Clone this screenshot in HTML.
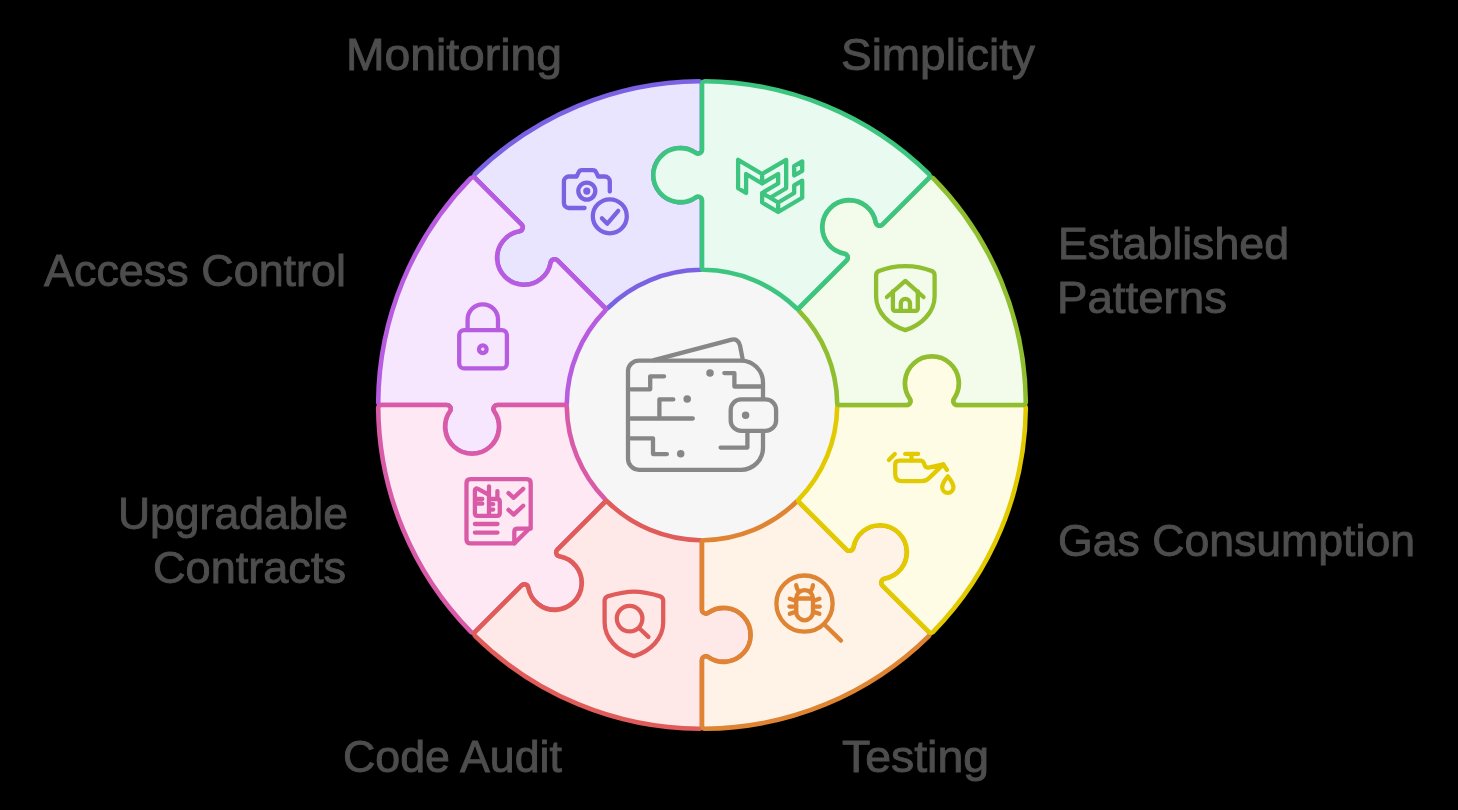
<!DOCTYPE html>
<html><head><meta charset="utf-8"><style>
html,body{margin:0;padding:0;background:#000;width:1458px;height:810px;overflow:hidden}
svg{display:block;will-change:transform}
text{font-family:"Liberation Sans",sans-serif;font-size:44.5px;fill:#4d4d4d;stroke:#4d4d4d;stroke-width:0.9px}
</style></head><body>
<svg width="1458" height="810" viewBox="0 0 1458 810">
<rect width="1458" height="810" fill="#000"/>
<circle cx="702" cy="405" r="137" fill="#f6f6f6"/>
<path d="M605.00 308.00 L557.43 260.43 A4.0 4.0 0 0 0 550.67 262.55 A27.0 27.0 0 1 1 519.32 231.21 A4.0 4.0 0 0 0 521.44 224.44 L475.17 178.17 A3.0 3.0 0 0 1 475.19 173.91 A323.8 323.8 0 0 1 698.97 81.21 A3.0 3.0 0 0 1 702.00 84.21 L702.00 149.65 A4.0 4.0 0 0 1 695.72 152.93 A27.0 27.0 0 1 0 695.72 197.27 A4.0 4.0 0 0 1 702.00 200.55 L702.00 267.81 A2.0 2.0 0 0 1 700.03 269.81 A135.2 135.2 0 0 0 607.80 308.02 A2.0 2.0 0 0 1 605.00 308.00 Z" fill="#e9e5ff" stroke="#7b62e2" stroke-width="4.6" stroke-linejoin="round"/>
<path d="M564.81 405.00 L497.55 405.00 A4.0 4.0 0 0 0 494.27 411.28 A27.0 27.0 0 1 1 449.93 411.28 A4.0 4.0 0 0 0 446.65 405.00 L381.21 405.00 A3.0 3.0 0 0 1 378.21 401.97 A323.8 323.8 0 0 1 470.91 178.19 A3.0 3.0 0 0 1 475.17 178.17 L521.44 224.44 A4.0 4.0 0 0 1 519.32 231.21 A27.0 27.0 0 1 0 550.67 262.55 A4.0 4.0 0 0 1 557.43 260.43 L605.00 308.00 A2.0 2.0 0 0 1 605.02 310.80 A135.2 135.2 0 0 0 566.81 403.03 A2.0 2.0 0 0 1 564.81 405.00 Z" fill="#f6e7fe" stroke="#b75ce0" stroke-width="4.6" stroke-linejoin="round"/>
<path d="M605.00 502.00 L557.43 549.57 A4.0 4.0 0 0 0 559.55 556.33 A27.0 27.0 0 1 1 528.21 587.68 A4.0 4.0 0 0 0 521.44 585.56 L475.17 631.83 A3.0 3.0 0 0 1 470.91 631.81 A323.8 323.8 0 0 1 378.21 408.03 A3.0 3.0 0 0 1 381.21 405.00 L446.65 405.00 A4.0 4.0 0 0 1 449.93 411.28 A27.0 27.0 0 1 0 494.27 411.28 A4.0 4.0 0 0 1 497.55 405.00 L564.81 405.00 A2.0 2.0 0 0 1 566.81 406.97 A135.2 135.2 0 0 0 605.02 499.20 A2.0 2.0 0 0 1 605.00 502.00 Z" fill="#fde8f4" stroke="#d95ba7" stroke-width="4.6" stroke-linejoin="round"/>
<path d="M702.00 542.19 L702.00 609.45 A4.0 4.0 0 0 0 708.28 612.73 A27.0 27.0 0 1 1 708.28 657.07 A4.0 4.0 0 0 0 702.00 660.35 L702.00 725.79 A3.0 3.0 0 0 1 698.97 728.79 A323.8 323.8 0 0 1 475.19 636.09 A3.0 3.0 0 0 1 475.17 631.83 L521.44 585.56 A4.0 4.0 0 0 1 528.21 587.68 A27.0 27.0 0 1 0 559.55 556.33 A4.0 4.0 0 0 1 557.43 549.57 L605.00 502.00 A2.0 2.0 0 0 1 607.80 501.98 A135.2 135.2 0 0 0 700.03 540.19 A2.0 2.0 0 0 1 702.00 542.19 Z" fill="#ffe9e8" stroke="#e05c5a" stroke-width="4.6" stroke-linejoin="round"/>
<path d="M799.00 502.00 L846.57 549.57 A4.0 4.0 0 0 0 853.33 547.45 A27.0 27.0 0 1 1 884.68 578.79 A4.0 4.0 0 0 0 882.56 585.56 L928.83 631.83 A3.0 3.0 0 0 1 928.81 636.09 A323.8 323.8 0 0 1 705.03 728.79 A3.0 3.0 0 0 1 702.00 725.79 L702.00 660.35 A4.0 4.0 0 0 1 708.28 657.07 A27.0 27.0 0 1 0 708.28 612.73 A4.0 4.0 0 0 1 702.00 609.45 L702.00 542.19 A2.0 2.0 0 0 1 703.97 540.19 A135.2 135.2 0 0 0 796.20 501.98 A2.0 2.0 0 0 1 799.00 502.00 Z" fill="#fff2e7" stroke="#de8432" stroke-width="4.6" stroke-linejoin="round"/>
<path d="M839.19 405.00 L906.45 405.00 A4.0 4.0 0 0 0 909.73 398.72 A27.0 27.0 0 1 1 954.07 398.72 A4.0 4.0 0 0 0 957.35 405.00 L1022.79 405.00 A3.0 3.0 0 0 1 1025.79 408.03 A323.8 323.8 0 0 1 933.09 631.81 A3.0 3.0 0 0 1 928.83 631.83 L882.56 585.56 A4.0 4.0 0 0 1 884.68 578.79 A27.0 27.0 0 1 0 853.33 547.45 A4.0 4.0 0 0 1 846.57 549.57 L799.00 502.00 A2.0 2.0 0 0 1 798.98 499.20 A135.2 135.2 0 0 0 837.19 406.97 A2.0 2.0 0 0 1 839.19 405.00 Z" fill="#fffce6" stroke="#e2ca00" stroke-width="4.6" stroke-linejoin="round"/>
<path d="M799.00 308.00 L846.57 260.43 A4.0 4.0 0 0 0 844.45 253.67 A27.0 27.0 0 1 1 875.79 222.32 A4.0 4.0 0 0 0 882.56 224.44 L928.83 178.17 A3.0 3.0 0 0 1 933.09 178.19 A323.8 323.8 0 0 1 1025.79 401.97 A3.0 3.0 0 0 1 1022.79 405.00 L957.35 405.00 A4.0 4.0 0 0 1 954.07 398.72 A27.0 27.0 0 1 0 909.73 398.72 A4.0 4.0 0 0 1 906.45 405.00 L839.19 405.00 A2.0 2.0 0 0 1 837.19 403.03 A135.2 135.2 0 0 0 798.98 310.80 A2.0 2.0 0 0 1 799.00 308.00 Z" fill="#f3fbea" stroke="#8fbf30" stroke-width="4.6" stroke-linejoin="round"/>
<path d="M702.00 267.81 L702.00 200.55 A4.0 4.0 0 0 0 695.72 197.27 A27.0 27.0 0 1 1 695.72 152.93 A4.0 4.0 0 0 0 702.00 149.65 L702.00 84.21 A3.0 3.0 0 0 1 705.03 81.21 A323.8 323.8 0 0 1 928.81 173.91 A3.0 3.0 0 0 1 928.83 178.17 L882.56 224.44 A4.0 4.0 0 0 1 875.79 222.32 A27.0 27.0 0 1 0 844.45 253.67 A4.0 4.0 0 0 1 846.57 260.43 L799.00 308.00 A2.0 2.0 0 0 1 796.20 308.02 A135.2 135.2 0 0 0 703.97 269.81 A2.0 2.0 0 0 1 702.00 267.81 Z" fill="#e9faf1" stroke="#3dc47f" stroke-width="4.6" stroke-linejoin="round"/>
<g fill="none" stroke-width="4.3" stroke-linecap="round" stroke-linejoin="round">
<!-- camera check -->
<g stroke="#7b62e2">
<path d="M584.6 208 H568.9 A5 5 0 0 1 563.9 203 V181.5 A5 5 0 0 1 568.9 176.5 H576.6 L578.6 172.4 Q579.6 170.2 582 170.2 H592.8 Q595.2 170.2 596.2 172.4 L598.2 176.5 H604.8 A5 5 0 0 1 609.8 181.5 V191.6"/>
<circle cx="586.8" cy="191.1" r="8.5"/>
<circle cx="586.8" cy="191.1" r="3.6" fill="#7b62e2" stroke="none"/>
<circle cx="609.8" cy="216.3" r="17"/>
<path d="M601.9 218.3 L607.3 223.7 L618.2 210.9"/>
</g>
<!-- MUI -->
<g stroke="#3dc47f" transform="translate(738.1 153.0) scale(2.671 2.74)">
<path vector-effect="non-scaling-stroke" d="M0 2.475 V12.865 L3 14.598 V7.67 L9 11.135 L15 7.672 V11.136 L9 14.599 V18.063 L15 21.526 L24 16.331 V10.1 L21 11.83 V14.598 L15 18.062 L12 16.33 L18 12.865 V2.475 L9 7.67 Z M9 7.67 V11.135 M9 14.599 L12 16.33 M15 18.062 V21.526 M24 3.025 L21 4.755 V8.22 L24 6.488 Z"/>
</g>
<!-- shield home -->
<g stroke="#8fbf30">
<path d="M905.3 266.1 C895 266.1 885 268.5 878.9 271.1 Q876.1 272.3 876.1 275.3 L876.1 296.5 C876.1 312 889 325 905.3 330.1 C921.6 325 934.6 312 934.6 296.5 L934.6 275.3 Q934.6 272.3 931.8 271.1 C925.6 268.5 915.6 266.1 905.3 266.1 Z"/>
<path d="M886.9 297 L905.3 280.9 L923.5 297"/>
<path d="M892.9 291.5 V308.8 A2 2 0 0 0 894.9 310.8 H915.8 A2 2 0 0 0 917.8 308.8 V291.5"/>
<path d="M900.8 310.8 V303.4 A4.6 4.6 0 0 1 910 303.4 V310.8"/>
</g>
<!-- oil can -->
<g stroke="#e2ca00">
<path d="M888.9 460 L894.8 454.1"/>
<path d="M905.2 453.9 H918.1 M911.5 453.9 V460.7"/>
<path d="M899.2 460.7 H920.5 Q922.8 460.7 923.8 463 L925 466 Q926 468 928.5 467.6 L943.3 464.4 L929.5 477.6 Q926.5 481.1 922 481.1 H902.2 Q895.2 481.1 895.2 474 V464.7 Q895.2 460.7 899.2 460.7 Z"/>
<path d="M943.3 464.4 L947 470"/>
<path d="M947.8 476.3 C944 481 942.2 484.2 942.2 487.2 A5.6 5.6 0 0 0 953.4 487.2 C953.4 484.2 951.6 481 947.8 476.3 Z"/>
</g>
<!-- bug search -->
<g stroke="#de8432">
<circle cx="804.5" cy="603.6" r="28.1"/>
<path d="M825.2 625.3 L841 640.6"/>
<path d="M796.2 598.5 A8.4 8.4 0 0 1 813 598.5 V611.9 A8.4 8.4 0 0 1 796.2 611.9 Z"/>
<path d="M796.2 598.5 H813"/>
<path d="M796.2 585.2 Q796.6 588.8 798.6 591.2 M813 585.2 Q812.6 588.8 810.6 591.2"/>
<path d="M796.2 601 L789.8 598.8 M796.2 606.6 H789.4 M796.2 611.6 L789.8 613.8 M813 601 L819.4 598.8 M813 606.6 H819.8 M813 611.6 L819.4 613.8"/>
</g>
<!-- shield search -->
<g stroke="#e05c5a">
<path d="M634 591.7 C624 591.7 614 594.5 607.4 596.4 Q604.6 597.6 604.6 600.6 L604.6 622.5 C604.6 638 617 651 634 656.1 C651 651 663.2 638 663.2 622.5 L663.2 600.6 Q663.2 597.6 660.4 596.4 C654 594.5 644 591.7 634 591.7 Z"/>
<circle cx="629.6" cy="618.6" r="12.8"/>
<path d="M639.5 628.5 L648.4 636.9"/>
</g>
<!-- document -->
<g stroke="#d95ba7">
<path d="M514.3 543.4 H470.5 Q466.5 543.4 466.5 539.4 V483.2 Q466.5 479.2 470.5 479.2 H526.7 Q530.7 479.2 530.7 483.2 V527.2 L514.3 543.4 Z"/>
<path d="M514.3 543.4 V532 Q514.3 528.7 517.6 528.7 H530.7"/>
<path d="M474.9 524 H497.5 M474.9 532.6 H497.5"/>
<path d="M508.5 493.1 L513.7 497.8 L523.2 488.9 M508.5 509.9 L513.7 514.6 L523.2 505.7"/>
<path d="M489 486.4 V515.8 H477.5 Q474.9 515.8 474.9 513.2 V490.8 Q474.9 487.6 478 488.9 L489 494.8 M489 499 H497 Q499.8 499 499.8 501.8 V513 Q499.8 515.8 497 515.8 H489 M497.4 491.1 V497 M476.9 499 H482.3 M476.9 503.7 H482.3 M491.2 504.2 H493.2 M491.2 509.6 H493.2"/>
</g>
<!-- lock -->
<g stroke="#b75ce0">
<rect x="459.2" y="330.1" width="47.7" height="38.3" rx="5"/>
<path d="M467.6 330.1 V319.6 A15.2 15.2 0 0 1 498 319.6 V330.1"/>
<circle cx="482.8" cy="349.2" r="3.8"/>
</g>
<!-- wallet -->
<g stroke="#878787">
<path d="M741 360.6 H639 A11 11 0 0 0 628 370.6 V458.8 A11 11 0 0 0 639 469.8 H741 A22 22 0 0 0 763 447.8 V431.9 M763 398.5 V382.6 A22 22 0 0 0 741 360.6"/>
<path d="M654 360.2 L730.8 339.8 Q738.2 338 740 345.5 L742.8 359.8"/>
<rect x="730.7" y="399.4" width="45.4" height="31.5" rx="10.5"/>
<circle cx="745.6" cy="415.2" r="1.6" fill="#878787"/>
<path d="M630.9 389.3 H650.2 V376.3 H664.1"/>
<path d="M630.9 418.5 H692.8 M659.4 418.5 V399.4 H673.3"/>
<path d="M630.9 438.3 H653 V454.1 H666.9"/>
<path d="M724.3 373.1 H734.4 V386.5 H763"/>
<path d="M720.6 447.6 H747.4 V431.9"/>
<circle cx="710" cy="373.1" r="1.6" fill="#878787"/>
<circle cx="687.2" cy="399.1" r="1.6" fill="#878787"/>
<circle cx="680.7" cy="453.7" r="1.6" fill="#878787"/>
</g>
</g>

<text x="346.00" y="70.0" textLength="216.00" lengthAdjust="spacingAndGlyphs">Monitoring</text>
<text x="841.00" y="69.8" textLength="194.00" lengthAdjust="spacingAndGlyphs">Simplicity</text>
<text x="1058.00" y="258.9" textLength="231.00" lengthAdjust="spacingAndGlyphs">Established</text>
<text x="1057.00" y="312.6" textLength="170.00" lengthAdjust="spacingAndGlyphs">Patterns</text>
<text x="1058.00" y="555.7" textLength="357.00" lengthAdjust="spacingAndGlyphs">Gas Consumption</text>
<text x="842.00" y="772.0" textLength="147.00" lengthAdjust="spacingAndGlyphs">Testing</text>
<text x="343.00" y="772.0" textLength="219.00" lengthAdjust="spacingAndGlyphs">Code Audit</text>
<text x="118.00" y="528.9" textLength="230.00" lengthAdjust="spacingAndGlyphs">Upgradable</text>
<text x="153.00" y="582.6" textLength="193.00" lengthAdjust="spacingAndGlyphs">Contracts</text>
<text x="44.00" y="285.7" textLength="302.00" lengthAdjust="spacingAndGlyphs">Access Control</text>
</svg>
</body></html>
